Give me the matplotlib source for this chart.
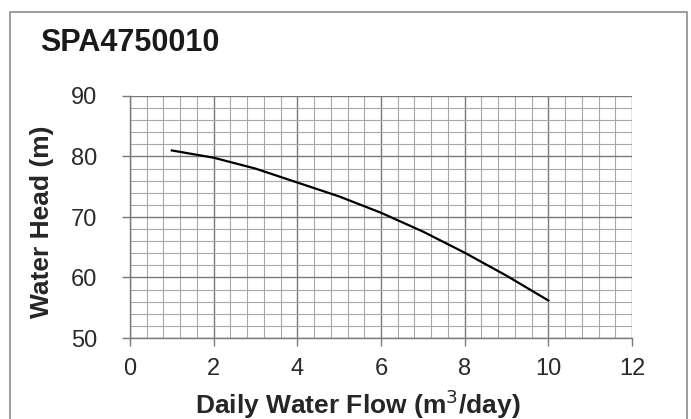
import matplotlib
matplotlib.use("Agg")
import matplotlib.pyplot as plt
from matplotlib.patches import Rectangle
from matplotlib.ticker import MultipleLocator

plt.rcParams["font.family"] = ["Liberation Sans", "DejaVu Sans"]

TITLE = "SPA4750010"
flow = [1, 2, 3, 4, 5, 6, 7, 8, 9, 10]
head = [81.0, 79.8, 78.0, 75.7, 73.4, 70.7, 67.6, 64.1, 60.3, 56.2]

W, H = 691, 419
fig = plt.figure(figsize=(W / 100, H / 100), dpi=100)
ax = fig.add_axes([130 / W, 1 - 338 / H, (632 - 130) / W, (338 - 96) / H])

# outer frame
fig.patches.append(Rectangle((10 / W, -0.05), (687 - 10) / W, 1 - 12 / H + 0.05,
                             transform=fig.transFigure, fill=False,
                             edgecolor="#8c8c8c", linewidth=1.2))

ax.plot(flow, head, color="black", linewidth=1.6, zorder=3)

ax.set_xlim(0, 12)
ax.set_ylim(50, 90)
ax.xaxis.set_major_locator(MultipleLocator(2))
ax.xaxis.set_minor_locator(MultipleLocator(0.4))
ax.yaxis.set_major_locator(MultipleLocator(10))
ax.yaxis.set_minor_locator(MultipleLocator(2))
ax.grid(which="major", color="#7a7a7a", linewidth=1.0)
ax.grid(which="minor", color="#a8a8a8", linewidth=0.8)
ax.set_axisbelow(True)

for side in ["top", "right"]:
    ax.spines[side].set_visible(False)
for side in ["left", "bottom"]:
    ax.spines[side].set_color("#7a7a7a")
    ax.spines[side].set_linewidth(1.0)

ax.tick_params(which="major", length=5.5, width=1.0, color="#7a7a7a",
               labelsize=17, labelcolor="#2a2a2a")
ax.tick_params(axis="x", which="major", pad=9)
ax.tick_params(axis="y", which="major", pad=18)
ax.tick_params(which="minor", length=0)

ax.set_xlabel("Daily Water Flow (m$^3$/day)", fontsize=19, fontweight="bold", color="#262626")
ax.set_ylabel("Water Head (m)", fontsize=19, fontweight="bold", color="#262626")
ax.xaxis.set_label_coords((358 - 130) / (632 - 130), -(387 - 338) / (338 - 96))
ax.yaxis.set_label_coords(-(130 - 54) / (632 - 130), (338 - 222) / (338 - 96))

fig.text(40 / W, 1 - 43 / H, TITLE, fontsize=22, fontweight="bold",
         color="#1a1a1a", ha="left", va="center")

fig.savefig("out.png", dpi=100)
